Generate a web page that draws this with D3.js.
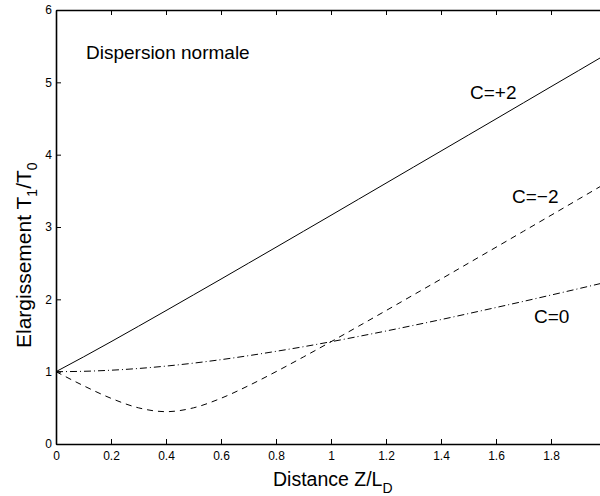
<!DOCTYPE html>
<html>
<head>
<meta charset="utf-8">
<script src="https://cdn.jsdelivr.net/npm/d3@7"></script>
<style>
  body { margin: 0; background: #fff; }
  svg { display: block; font-family: "Liberation Sans", Arial, sans-serif; }
  .axis path, .axis line { stroke: #000; }
  .axis text { font-size: 12px; fill: #000; }
</style>
</head>
<body>
<div id="chart-area"></div>
<script>
// distance Z/L_D
var zValues = [0, 0.1, 0.2, 0.3, 0.4, 0.5, 0.6, 0.7, 0.8, 0.9, 1.0,
               1.1, 1.2, 1.3, 1.4, 1.5, 1.6, 1.7, 1.8, 1.9, 2.0];
// T1/T0
var cPlus2 = [1, 1.204, 1.414, 1.628, 1.844, 2.062, 2.280, 2.5, 2.720, 2.941, 3.162,
              3.384, 3.606, 3.828, 4.050, 4.272, 4.494, 4.717, 4.940, 5.162, 5.385];
var cMinus2 = [1, 0.806, 0.632, 0.5, 0.447, 0.5, 0.632, 0.806, 1.0, 1.204, 1.414,
               1.628, 1.844, 2.062, 2.280, 2.5, 2.720, 2.941, 3.162, 3.384, 3.606];
var cZero = [1, 1.005, 1.020, 1.044, 1.077, 1.118, 1.166, 1.221, 1.281, 1.345, 1.414,
             1.487, 1.562, 1.640, 1.720, 1.803, 1.887, 1.972, 2.059, 2.147, 2.236];
var xTicks = [0, 0.2, 0.4, 0.6, 0.8, 1, 1.2, 1.4, 1.6, 1.8];
var yTicks = [0, 1, 2, 3, 4, 5, 6];

var margin = {top: 10, left: 56, bottom: 52, right: -6},
    width = 600 - margin.left - margin.right,
    height = 496 - margin.top - margin.bottom;

var svg = d3.select("#chart-area").append("svg")
    .attr("width", 600)
    .attr("height", 496);
var g = svg.append("g")
    .attr("transform", "translate(" + margin.left + ", " + margin.top + ")");

var x = d3.scaleLinear().domain([0, 2]).range([0, width]);
var y = d3.scaleLinear().domain([0, 6]).range([height, 0]);

// axes, matlab style: ticks pointing inward
var xAxisCall = d3.axisBottom(x).tickValues(xTicks).tickSizeInner(-5).tickSizeOuter(0).tickPadding(7)
    .tickFormat(d3.format("~g"));
g.append("g").attr("class", "x axis")
    .attr("transform", "translate(0, " + height + ")")
    .call(xAxisCall);
var yAxisCall = d3.axisLeft(y).tickValues(yTicks).tickSizeInner(-5).tickSizeOuter(0).tickPadding(4)
    .tickFormat(d3.format("~g"));
g.append("g").attr("class", "y axis")
    .call(yAxisCall);
g.append("g").attr("class", "axis")
    .call(d3.axisTop(x).tickValues(xTicks).tickSizeInner(-5).tickSizeOuter(0).tickFormat(""));
g.append("g").attr("class", "axis")
    .attr("transform", "translate(" + width + ", 0)")
    .call(d3.axisRight(y).tickValues(yTicks).tickSizeInner(-5).tickSizeOuter(0).tickFormat(""));
g.selectAll(".axis path").attr("stroke-width", 1.6);

var line = d3.line()
    .x((d) => { return x(d.z) })
    .y((d) => { return y(d.v) })
    .curve(d3.curveMonotoneX);

function series(vals) {
    return zValues.map((z, i) => { return {z: z, v: vals[i]} });
}

var curves = [
    {vals: cPlus2, dash: null},
    {vals: cMinus2, dash: "6,5"},
    {vals: cZero, dash: "7,3,1,3"}
];
curves.forEach((c) => {
    g.append("path")
        .attr("d", line(series(c.vals)))
        .attr("fill", "none")
        .attr("stroke", "#000")
        .attr("stroke-width", 1)
        .attr("stroke-dasharray", c.dash);
});

// annotations
svg.append("text").attr("x", 86).attr("y", 59)
    .attr("font-size", 19).text("Dispersion normale");
svg.append("text").attr("x", 470).attr("y", 99)
    .attr("font-size", 19).text("C=+2");
svg.append("text").attr("x", 512).attr("y", 203)
    .attr("font-size", 19).text("C=\u22122");
svg.append("text").attr("x", 534).attr("y", 323)
    .attr("font-size", 19).text("C=0");

// axis labels
var xl = svg.append("text").attr("x", 273).attr("y", 486).attr("font-size", 19.5);
xl.append("tspan").text("Distance Z/L");
xl.append("tspan").attr("dy", 7).attr("font-size", 14).text("D");

var yl = svg.append("text")
    .attr("transform", "translate(31, 348) rotate(-90)")
    .attr("font-size", 21);
yl.append("tspan").text("Elargissement T");
yl.append("tspan").attr("dy", 6).attr("font-size", 14).text("1");
yl.append("tspan").attr("dy", -6).text("/T");
yl.append("tspan").attr("dy", 6).attr("font-size", 14).text("0");
</script>
</body>
</html>
